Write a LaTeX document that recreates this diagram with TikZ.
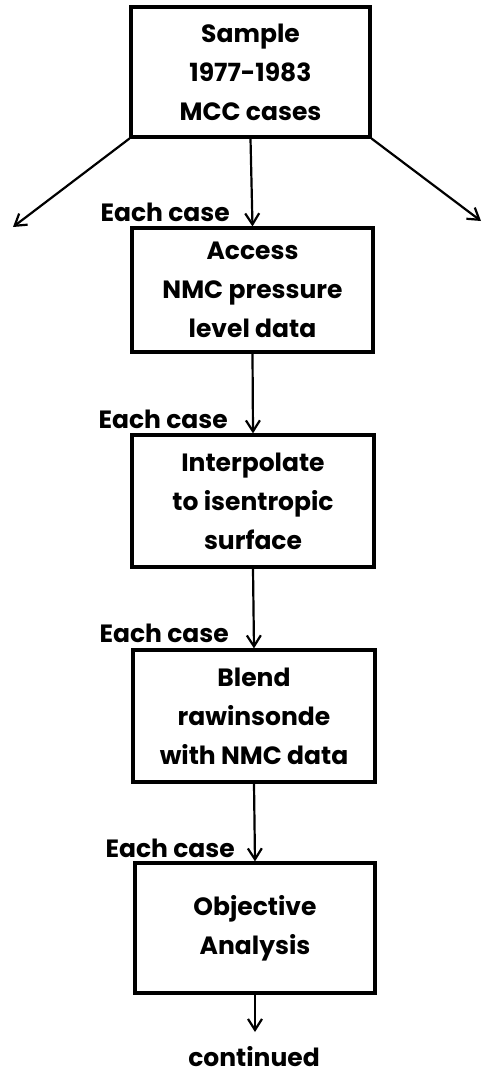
\documentclass[tikz,border=0pt]{standalone}
\usepackage{fontspec}
\setmainfont{Poppins}
\usetikzlibrary{arrows.meta}
\begin{document}
\begin{tikzpicture}[x=1pt,y=-1pt,
  box/.style={draw,line width=3.2pt,align=center,inner sep=0pt,font=\fontsize{25}{39}\selectfont\bfseries},
  conn/.style={line width=2.2pt,-{Straight Barb[length=11pt,width=14pt,line width=2.2pt]}},
  lbl/.style={anchor=base east,inner sep=0pt,font=\fontsize{25}{27}\selectfont\bfseries}]
\useasboundingbox (0,0) rectangle (482,1074);
\node[box,minimum width=239pt,minimum height=130pt] (b1) at (250.5,72) {Sample\\1977-1983\\MCC cases};
\node[box,minimum width=241pt,minimum height=124pt] (b2) at (252.5,290) {Access\\NMC pressure\\level data};
\node[box,minimum width=242pt,minimum height=132pt] (b3) at (253,501) {Interpolate\\to isentropic\\surface};
\node[box,minimum width=242pt,minimum height=132pt] (b4) at (254,716) {Blend\\rawinsonde\\with NMC data};
\node[box,minimum width=240pt,minimum height=130pt] (b5) at (255,928) {Objective\\Analysis};
\coordinate (lt) at (13,227);
\coordinate (rt) at (481,221);
\coordinate (ct) at (255,1032);
\draw[conn] (b1.south) -- (b2.north);
\draw[conn] (b1.south west) -- (lt);
\draw[conn] (b1.south east) -- (rt);
\draw[conn] (b2.south) -- (b3.north);
\draw[conn] (b3.south) -- (b4.north);
\draw[conn] (b4.south) -- (b5.north);
\draw[conn] (b5.south) -- (ct);
\node[lbl] (l1) at (230,221) {Each case};
\node[lbl] (l2) at (228,428) {Each case};
\node[lbl] (l3) at (229,642) {Each case};
\node[lbl] (l4) at (235,857) {Each case};
\node[anchor=base,inner sep=0pt,font=\fontsize{25}{27}\selectfont\bfseries] (cont) at (254,1066) {continued};
\end{tikzpicture}
\end{document}
